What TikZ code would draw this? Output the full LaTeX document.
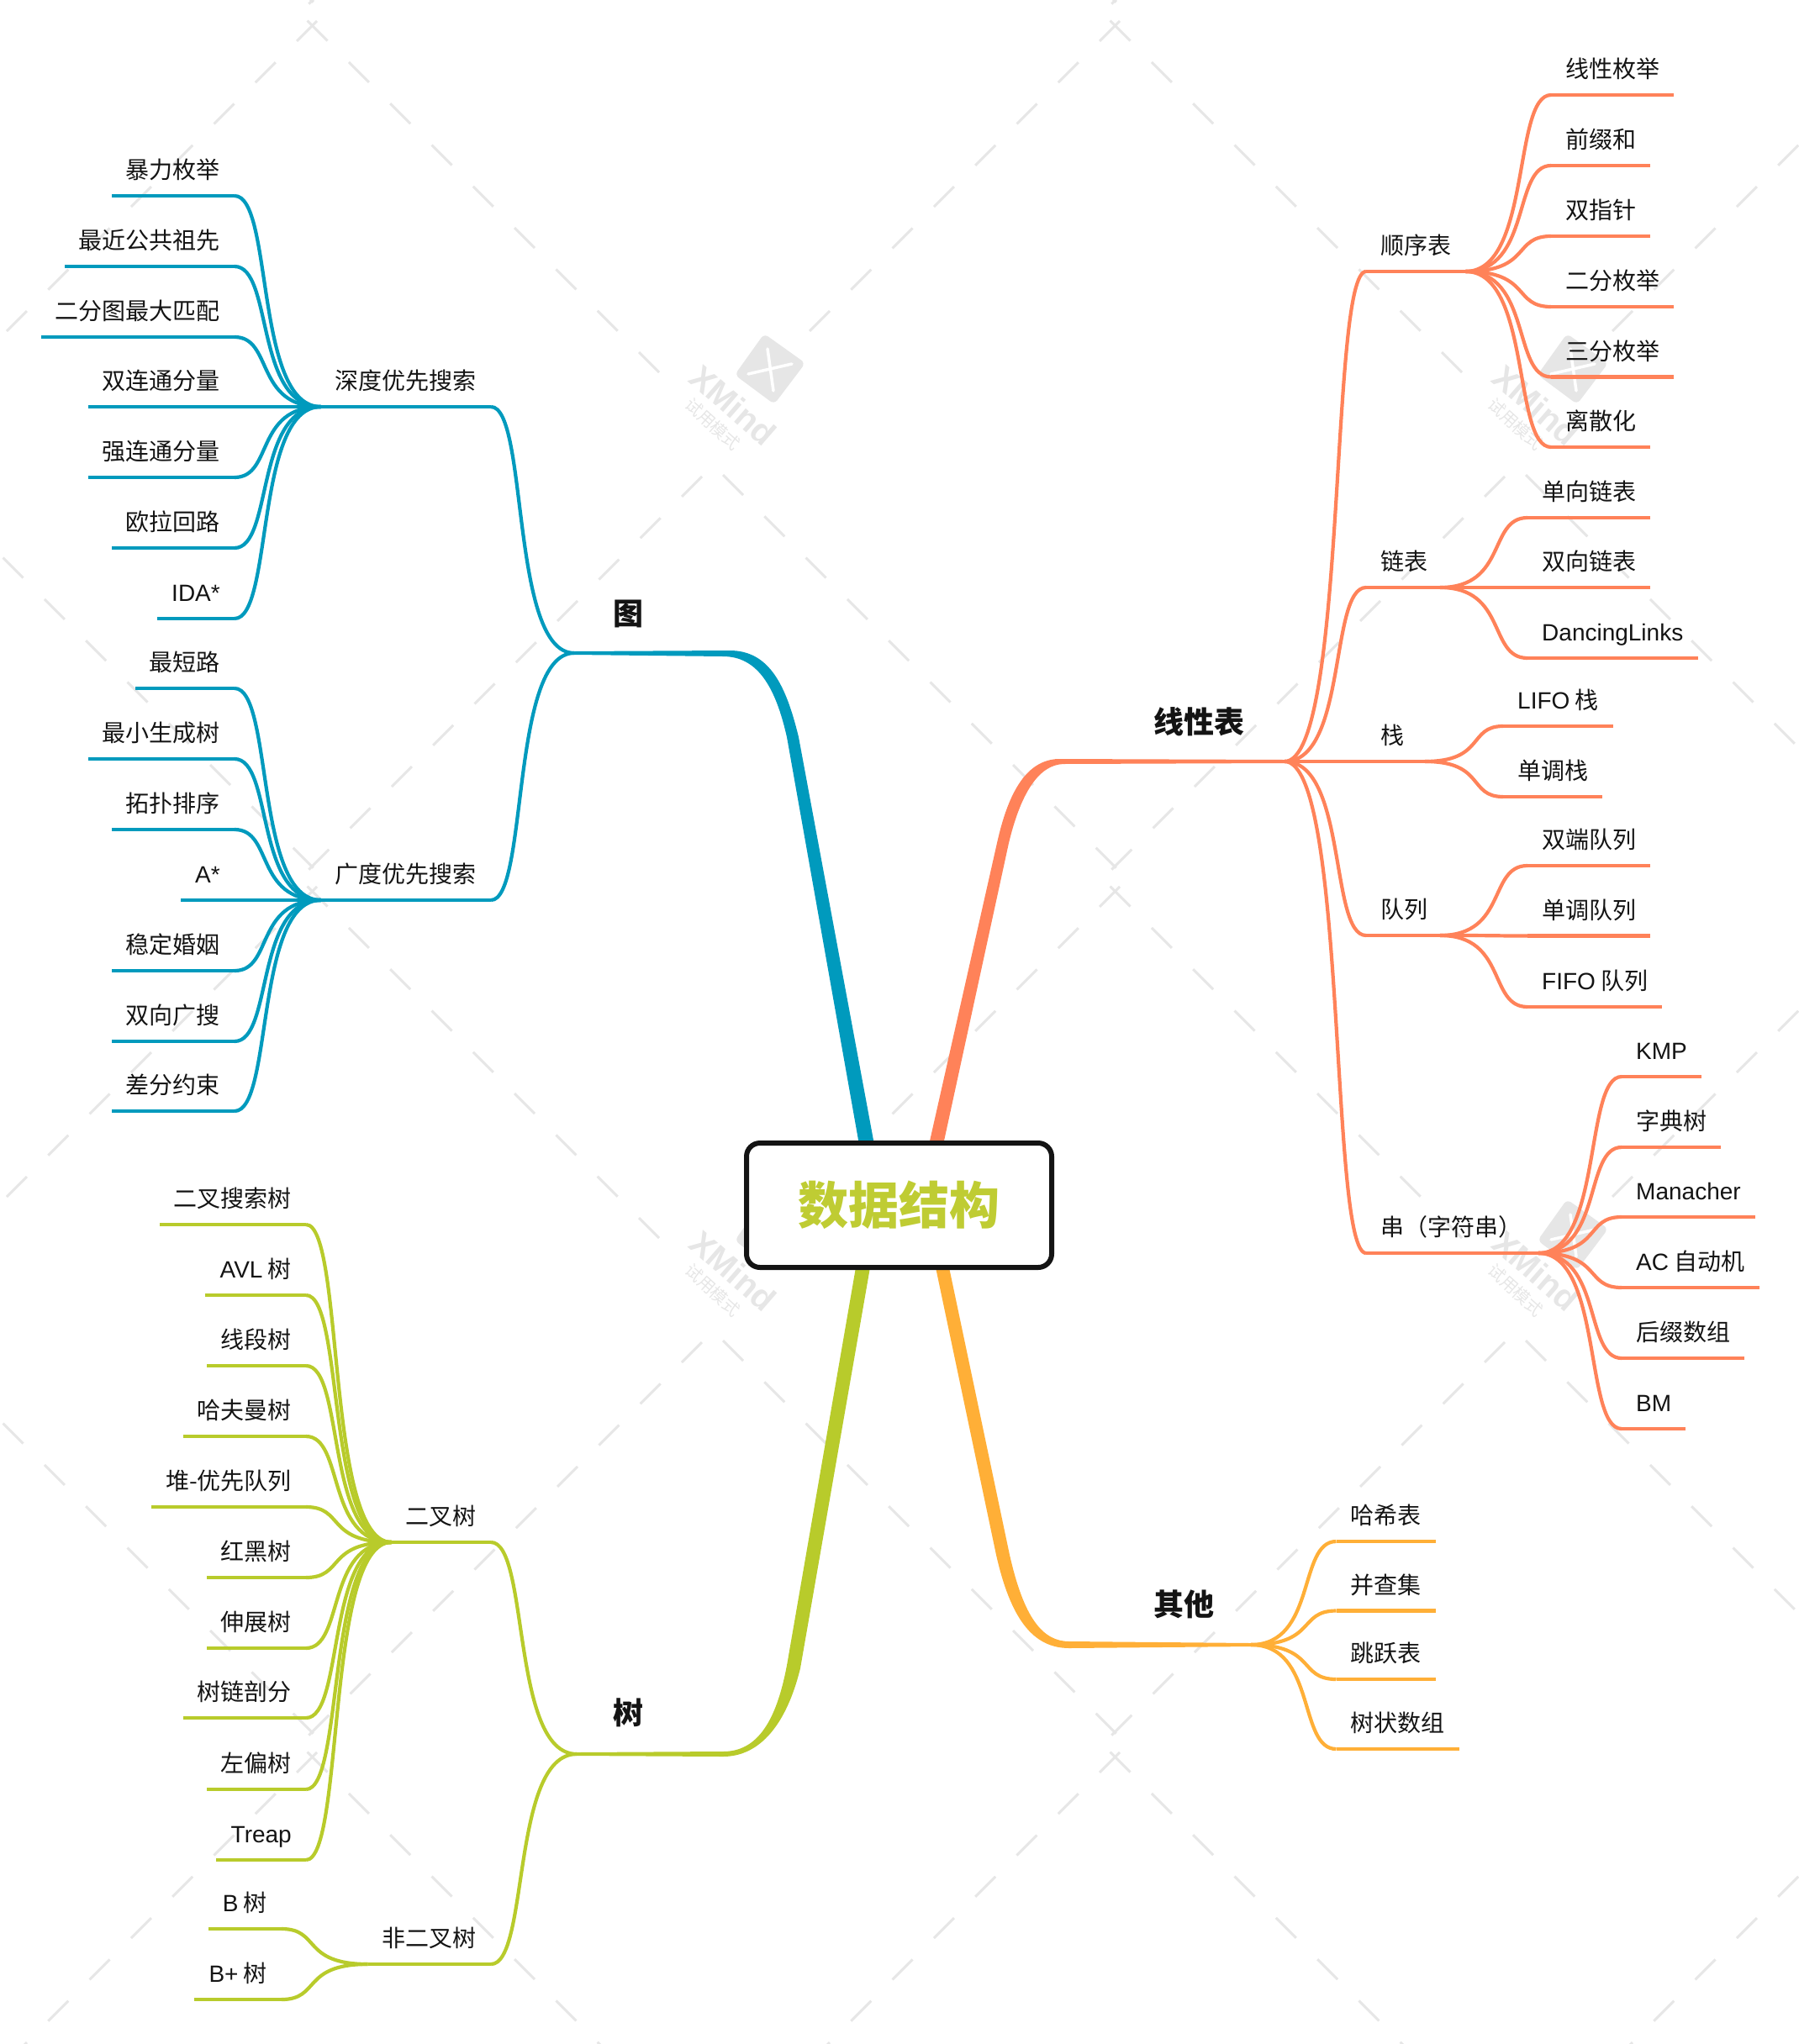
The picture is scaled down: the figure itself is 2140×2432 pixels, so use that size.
\documentclass[tikz,border=0pt]{standalone}
\usepackage{fontspec}
\setmainfont{Noto Sans CJK SC}
\newfontfamily\latfont{Liberation Sans}
\usepackage{tikz}
\usetikzlibrary{calc,positioning}

\definecolor{tublue}{HTML}{009ABD}
\definecolor{xxorange}{HTML}{FF8259}
\definecolor{qtyellow}{HTML}{FFAF37}
\definecolor{shugreen}{HTML}{B8CB2B}
\definecolor{rootgreen}{HTML}{BFCC33}
\definecolor{rootink}{HTML}{141414}
\definecolor{wmgray}{HTML}{E6E6E6}

\tikzset{
    leaf/.style={inner xsep=17pt,inner ysep=14pt,text height=24pt,text depth=6pt,
        font=\fontsize{28}{32}\selectfont,text=rootink},
    leafr/.style={leaf,anchor=south west},
    leafl/.style={leaf,anchor=south east},
    topic/.style={inner sep=0pt,anchor=west,font=\bfseries\fontsize{36}{40}\selectfont,text=rootink},
    rootbox/.style={draw=rootink,line width=6pt,fill=white,rounded corners=16pt,
        minimum width=363pt,minimum height=148pt,text=rootgreen,
        font=\bfseries\fontsize{60}{64}\selectfont},
    branch/.style={to path={.. controls ($(\tikztostart)!.77!(\tikztostart -| \tikztotarget)$)
        and ($(\tikztotarget)!.45!(\tikztotarget -| \tikztostart)$) .. (\tikztotarget)}},
    wire/.style={line width=4.2pt},
    wmdash/.style={draw=wmgray,line width=3pt},
}

\begin{document}
\begin{tikzpicture}[x=1pt,y=-1pt]
    \useasboundingbox (0,0) rectangle (2140,2432);

    % watermark
    \begin{scope}
        \clip (0,0) rectangle (2140,2432);
        \foreach \tx in {-955,0,955} {
            \foreach \ty in {-1030,0,1030,2060} {
                \begin{scope}[shift={(\tx,\ty)}]
                    \foreach \i in {0,...,8}
                        \draw[wmdash] ({760-49.3*\i},{419-49.3*\i}) -- ({784-49.3*\i},{443-49.3*\i});
                    \foreach \i in {0,...,7}
                        \draw[wmdash] ({963+49.3*\i},{394-49.3*\i}) -- ({987+49.3*\i},{370-49.3*\i});
                    \foreach \i in {0,...,9}
                        \draw[wmdash] ({811-49.3*\i},{591+49.3*\i}) -- ({835-49.3*\i},{567+49.3*\i});
                    \foreach \i in {0,...,9}
                        \draw[wmdash] ({860+49.3*\i},{565+49.3*\i}) -- ({884+49.3*\i},{589+49.3*\i});
                \end{scope}
            }
        }
    \end{scope}
    \foreach \tx in {0,955} {
        \foreach \ty in {0,1030} {
            \begin{scope}[shift={(\tx,\ty)}]
                \fill[wmgray,rounded corners=6pt] (909,397) -- (958,432) -- (921,481) -- (874,446) -- cycle;
                \draw[white,line width=3.5pt,line cap=round] (913,415) -- (920,465) (890,445) -- (942,433);
                \node[rotate=-41,text=wmgray,inner sep=0pt,font=\latfont\bfseries\fontsize{40}{44}\selectfont] (xmind\tx\ty) at (872,482) {XMind};
                \node[rotate=-42,text=wmgray,inner sep=0pt,font=\fontsize{20}{24}\selectfont] (shiyong\tx\ty) at (848,505) {试用模式};
            \end{scope}
        }
    }

    % root and topics
    \coordinate (tuJ) at (683,777);
    \coordinate (xxJ) at (1528,906);
    \coordinate (shuJ) at (686,2087);
    \coordinate (qtJ) at (1488,1957);

    \fill[tublue] (tuJ) ++(0,-2) -- (868,774) .. controls (915,774) and (935,815) .. (950,877)
        -- (1040,1362) -- (1022,1362) -- (936,877) .. controls (922,815) and (900,781) .. (860,781) -- (683,779) -- cycle;
    \fill[xxorange] (xxJ) ++(0,-2) -- (1258,903) .. controls (1222,905) and (1200,940) .. (1186,1003)
        -- (1105,1362) -- (1122,1362) -- (1200,1003) .. controls (1214,945) and (1235,910) .. (1265,909) -- (1528,908) -- cycle;
    \fill[shugreen] (shuJ) ++(0,-2) -- (860,2084) .. controls (900,2084) and (925,2050) .. (938,1970)
        -- (1018,1508) -- (1035,1508) -- (952,1985) .. controls (936,2050) and (905,2090) .. (860,2090) -- (686,2089) -- cycle;
    \fill[qtyellow] (qtJ) ++(0,-2) -- (1272,1953) .. controls (1240,1953) and (1218,1925) .. (1201,1850)
        -- (1129,1508) -- (1113,1508) -- (1185,1850) .. controls (1202,1925) and (1228,1961) .. (1272,1961) -- (1488,1959) -- cycle;

    \node[rootbox] (root) at (1069.5,1434) {\raisebox{5pt}{数据结构}};
    \node[topic] (tu) at (729,730) {图};
    \node[topic] (shu) at (729,2038) {树};
    \node[topic] (xianxing) at (1372,859) {线性表};
    \node[topic] (qita) at (1372,1909) {其他};

    % xianxing biao
    \node[leafr] (shunxu) at (1625,323) {顺序表};
    \node[leafr] (lianbiao) at (1625,699) {链表};
    \node[leafr] (zhan) at (1625,906) {栈};
    \node[leafr] (duilie) at (1625,1113) {队列};
    \node[leafr] (chuan) at (1625,1491) {串（字符串）};
    \coordinate (lianJ) at (1713,699);
    \coordinate (zhanJ) at (1695,906);
    \coordinate (duiJ) at (1713,1113);
    \coordinate (chuanJ) at (1830,1491);

    \node[leafr] (xxmj) at (1845,113) {线性枚举};
    \node[leafr] (qzh) at (1845,197) {前缀和};
    \node[leafr] (szz) at (1845,281) {双指针};
    \node[leafr] (efmj) at (1845,365) {二分枚举};
    \node[leafr] (sfmj) at (1845,448.5) {三分枚举};
    \node[leafr] (lsh) at (1845,532) {离散化};
    \node[leafr] (dxlb) at (1817,616) {单向链表};
    \node[leafr] (sxlb) at (1817,699) {双向链表};
    \node[leafr] (dlinks) at (1817,783) {\latfont DancingLinks};
    \node[leafr] (lifo) at (1788,864) {{\latfont LIFO} 栈};
    \node[leafr] (ddz) at (1788,948) {单调栈};
    \node[leafr] (sddl) at (1817,1030) {双端队列};
    \node[leafr] (dddl) at (1817,1113.5) {单调队列};
    \node[leafr] (fifo) at (1817,1198) {{\latfont FIFO} 队列};
    \node[leafr] (kmp) at (1929,1281) {\latfont KMP};
    \node[leafr] (zds) at (1929,1365) {字典树};
    \node[leafr] (mana) at (1929,1448) {\latfont Manacher};
    \node[leafr] (aczd) at (1929,1532) {{\latfont AC} 自动机};
    \node[leafr] (hzsz) at (1929,1616) {后缀数组};
    \node[leafr] (bm) at (1929,1700) {\latfont BM};

    % qita
    \node[leafr] (hxb) at (1589.5,1834) {哈希表};
    \node[leafr] (bcj) at (1589.5,1916.5) {并查集};
    \node[leafr] (tyb) at (1589.5,1998) {跳跃表};
    \node[leafr] (szsz) at (1589.5,2081) {树状数组};

    % tu
    \node[leafl] (dfs) at (584,484) {深度优先搜索};
    \node[leafl] (bfs) at (584,1071) {广度优先搜索};
    \node[leafl] (blmj) at (279,233) {暴力枚举};
    \node[leafl] (lca) at (279,317) {最近公共祖先};
    \node[leafl] (ewt) at (279,401) {二分图最大匹配};
    \node[leafl] (sltfl) at (279,484) {双连通分量};
    \node[leafl] (qltfl) at (279,568) {强连通分量};
    \node[leafl] (olhl) at (279,652) {欧拉回路};
    \node[leafl] (ida) at (279,736) {\latfont IDA*};
    \node[leafl] (zdl) at (279,819) {最短路};
    \node[leafl] (zxscs) at (279,903) {最小生成树};
    \node[leafl] (tppx) at (279,987) {拓扑排序};
    \node[leafl] (astar) at (279,1071) {\latfont A*};
    \node[leafl] (wdhy) at (279,1155) {稳定婚姻};
    \node[leafl] (sxgs) at (279,1239) {双向广搜};
    \node[leafl] (cfys) at (279,1322) {差分约束};

    % shu
    \node[leafl] (ecs) at (584,1835) {二叉树};
    \node[leafl] (fecs) at (584,2337) {非二叉树};
    \node[leafl] (ecss) at (364,1457) {二叉搜索树};
    \node[leafl] (avl) at (364,1541) {{\latfont AVL} 树};
    \node[leafl] (xds) at (364,1625) {线段树};
    \node[leafl] (hfms) at (364,1709) {哈夫曼树};
    \node[leafl] (dyx) at (364,1793) {堆-优先队列};
    \node[leafl] (hhs) at (364,1877) {红黑树};
    \node[leafl] (szs) at (364,1961) {伸展树};
    \node[leafl] (slpf) at (364,2044) {树链剖分};
    \node[leafl] (zps) at (364,2129) {左偏树};
    \node[leafl] (treap) at (364,2213) {\latfont Treap};
    \node[leafl] (bs) at (335,2295) {{\latfont B} 树};
    \node[leafl] (bps) at (335,2379) {{\latfont B+} 树};

    % connectors
    \begin{scope}[wire,xxorange]
        \foreach \n in {shunxu,lianbiao,zhan,duilie,chuan}
            \path (xxJ) edge[branch] (\n.south west);
        \draw (shunxu.south west) -- (shunxu.south east);
        \draw (lianbiao.south west) -- (lianJ);
        \draw (zhan.south west) -- (zhanJ);
        \draw (duilie.south west) -- (duiJ);
        \draw (chuan.south west) -- (chuanJ);
        \foreach \n in {xxmj,qzh,szz,efmj,sfmj,lsh}
            \path (shunxu.south east) edge[branch] (\n.south west) (\n.south west) edge (\n.south east);
        \foreach \n in {dxlb,sxlb,dlinks}
            \path (lianJ) edge[branch] (\n.south west) (\n.south west) edge (\n.south east);
        \foreach \n in {lifo,ddz}
            \path (zhanJ) edge[branch] (\n.south west) (\n.south west) edge (\n.south east);
        \foreach \n in {sddl,dddl,fifo}
            \path (duiJ) edge[branch] (\n.south west) (\n.south west) edge (\n.south east);
        \foreach \n in {kmp,zds,mana,aczd,hzsz,bm}
            \path (chuanJ) edge[branch] (\n.south west) (\n.south west) edge (\n.south east);
    \end{scope}
    \begin{scope}[wire,qtyellow]
        \foreach \n in {hxb,bcj,tyb,szsz}
            \path (qtJ) edge[branch] (\n.south west) (\n.south west) edge (\n.south east);
    \end{scope}
    \begin{scope}[wire,tublue]
        \foreach \n in {dfs,bfs}
            \path (tuJ) edge[branch] (\n.south east) (\n.south east) edge (\n.south west);
        \foreach \n in {blmj,lca,ewt,sltfl,qltfl,olhl,ida}
            \path (dfs.south west) edge[branch] (\n.south east) (\n.south east) edge (\n.south west);
        \foreach \n in {zdl,zxscs,tppx,astar,wdhy,sxgs,cfys}
            \path (bfs.south west) edge[branch] (\n.south east) (\n.south east) edge (\n.south west);
    \end{scope}
    \begin{scope}[wire,shugreen]
        \foreach \n in {ecs,fecs}
            \path (shuJ) edge[branch] (\n.south east) (\n.south east) edge (\n.south west);
        \foreach \n in {ecss,avl,xds,hfms,dyx,hhs,szs,slpf,zps,treap}
            \path (ecs.south west) edge[branch] (\n.south east) (\n.south east) edge (\n.south west);
        \foreach \n in {bs,bps}
            \path (fecs.south west) edge[branch] (\n.south east) (\n.south east) edge (\n.south west);
    \end{scope}
\end{tikzpicture}
\end{document}
